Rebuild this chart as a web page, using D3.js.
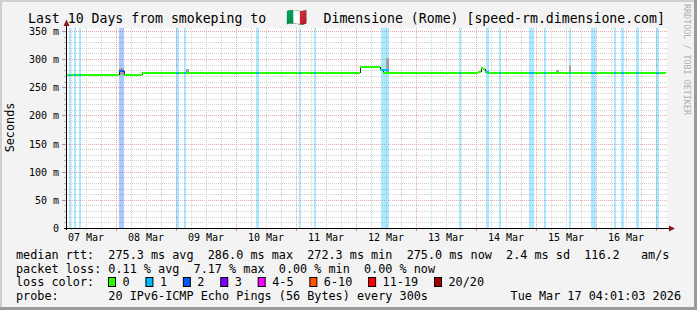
<!DOCTYPE html>
<html><head><meta charset="utf-8">
<script src="https://cdn.jsdelivr.net/npm/d3@7"></script>
<style>
html,body{margin:0;padding:0;background:#f3f3f3;}
svg{display:block;}
text{font-family:"DejaVu Sans Mono",monospace;white-space:pre;}
</style></head><body>
<svg id="chart" width="697" height="310"></svg>
<script>
// ---------- data ----------
const startTime = "2026-03-07T04:01:03Z";
const endTime   = "2026-03-17T04:01:03Z";
const titleParts = ["Last 10 Days from smokeping to ", "🇮🇹", " Dimensione (Rome) [speed-rm.dimensione.com]"];
const yTickValues = [0, 50, 100, 150, 200, 250, 300, 350];
const yTickLabels = ["0", "50 m", "100 m", "150 m", "200 m", "250 m", "300 m", "350 m"];
const dayLabels = ["07 Mar","08 Mar","09 Mar","10 Mar","11 Mar","12 Mar","13 Mar","14 Mar","15 Mar","16 Mar"];

// median RTT (ms) as steps: value holds from start until next start
const medianStart = ["2026-03-07T04:01Z","2026-03-08T01:12Z","2026-03-08T03:12Z","2026-03-08T10:24Z",
  "2026-03-12T01:36Z","2026-03-12T09:36Z","2026-03-12T10:48Z","2026-03-14T00:48Z",
  "2026-03-14T02:00Z","2026-03-14T02:48Z","2026-03-14T03:36Z","2026-03-14T04:24Z"];
const medianValue = [272.3, 279, 272.3, 275.6, 286.0, 280, 275.4, 278, 285, 282, 278, 275.0];

// loss events (start, duration in hours, lost pings of 20)
const lossStart = ["2026-03-07T05:12Z","2026-03-07T07:05Z","2026-03-07T09:05Z","2026-03-08T01:12Z",
  "2026-03-08T23:54Z","2026-03-09T03:06Z","2026-03-10T07:54Z","2026-03-11T01:06Z","2026-03-11T07:12Z",
  "2026-03-12T10:00Z","2026-03-13T17:12Z","2026-03-14T04:00Z","2026-03-14T09:12Z","2026-03-14T21:12Z",
  "2026-03-15T03:06Z","2026-03-15T13:12Z","2026-03-15T22:00Z","2026-03-16T07:06Z","2026-03-16T10:00Z",
  "2026-03-16T16:00Z","2026-03-16T23:54Z"];
const lossHours = [0.8,0.8,0.8,2,1.3,0.8,1.3,0.8,0.8,3.2,0.8,1.2,0.8,2,0.8,0.8,2,0.8,1.2,1.2,1.3];
const lossCount = [1,1,1,2,1,1,1,1,1,1,1,1,1,1,1,1,1,1,1,1,1];

// smoke (spread of individual pings), ms
const smokeStart = ["2026-03-08T01:12Z","2026-03-09T04:00Z","2026-03-12T12:00Z","2026-03-15T08:00Z","2026-03-15T13:12Z"];
const smokeHours = [2, 1.2, 1.2, 1.2, 0.8];
const smokeLow   = [272, 276, 277, 277, 277];
const smokeHigh  = [284, 283, 302, 281, 288];

const legendLabels = ["0","1","2","3","4-5","6-10","11-19","20/20"];
const legendColors = ["#26ff00","#00b8ff","#0059ff","#7e00ff","#ff00ff","#ff5500","#ff0000","#a10000"];
const rttStats  = ["275.3 ms avg","286.0 ms max","272.3 ms min","275.0 ms now","2.4 ms sd","116.2   am/s"];
const lossStats = ["0.11 % avg","7.17 % max","0.00 % min","0.00 % now"];
const probeText = "20 IPv6-ICMP Echo Pings (56 Bytes) every 300s";
const stampText = "Tue Mar 17 04:01:03 2026";

// ---------- chart ----------
const svg = d3.select("#chart");
const L = 66, R = 666, T = 28, B = 228;
const t0 = new Date(startTime), t1 = new Date(endTime);
const x = d3.scaleUtc().domain([t0, t1]).range([L, R]);
const y = d3.scaleLinear().domain([0, 355.3]).range([B, T]);
const HOUR = 3600e3;
const colorOf = n => legendColors[n <= 3 ? n : n <= 5 ? 4 : n <= 10 ? 5 : n <= 19 ? 6 : 7];

// frame
svg.append("rect").attr("width",697).attr("height",310).attr("fill","#f3f3f3");
svg.append("rect").attr("x",0).attr("y",0).attr("width",697).attr("height",2).attr("fill","#cfcfcf");
svg.append("rect").attr("x",0).attr("y",0).attr("width",2).attr("height",310).attr("fill","#cfcfcf");
svg.append("rect").attr("x",694).attr("y",0).attr("width",3).attr("height",310).attr("fill","#9b9b9b");
svg.append("rect").attr("x",0).attr("y",307).attr("width",697).attr("height",3).attr("fill","#9b9b9b");

// canvas
svg.append("rect").attr("x",L).attr("y",T).attr("width",R-L+1).attr("height",B-T).attr("fill","#fff");

const g = svg.append("g");
// horizontal grid
d3.range(10, 351, 10).forEach(v => {
  const yy = Math.round(y(v)) + 0.5, major = v % 50 === 0;
  g.append("line").attr("x1",L).attr("x2",R+1).attr("y1",yy).attr("y2",yy)
    .attr("stroke", major ? "#e8a8a8" : "#d2d2d2").attr("stroke-dasharray","1,1");
  g.append("line").attr("x1", major ? 62 : 64).attr("x2",L).attr("y1",yy).attr("y2",yy)
    .attr("stroke", major ? "#d08a8a" : "#b8b8b8");
});
// vertical grid
d3.utcHour.every(6).range(t0, t1).forEach(d => {
  const xx = Math.round(x(d)) + 0.5, major = d.getUTCHours() === 0;
  g.append("line").attr("x1",xx).attr("x2",xx).attr("y1",T).attr("y2",B)
    .attr("stroke", major ? "#e8a8a8" : "#d2d2d2").attr("stroke-dasharray","1,1");
  g.append("line").attr("x1",xx).attr("x2",xx).attr("y1",B).attr("y2", major ? B+3 : B+2)
    .attr("stroke", major ? "#d08a8a" : "#b8b8b8");
});

// loss backgrounds
lossStart.forEach((s, i) => {
  const a = new Date(s), b = new Date(+a + lossHours[i]*HOUR);
  const xa = Math.round(x(a)), xb = Math.max(xa + 2, Math.round(x(b)));
  g.append("rect").attr("x",xa).attr("y",T).attr("width",xb-xa).attr("height",B-T)
    .attr("fill", colorOf(lossCount[i])).attr("fill-opacity",0.32);
});

// smoke
smokeStart.forEach((s, i) => {
  const a = new Date(s), b = new Date(+a + smokeHours[i]*HOUR);
  const xa = Math.round(x(a)), xb = Math.max(xa + 1, Math.round(x(b)));
  g.append("rect").attr("x",xa).attr("width",xb-xa)
    .attr("y",Math.round(y(smokeHigh[i]))).attr("height",Math.round(y(smokeLow[i]))-Math.round(y(smokeHigh[i])))
    .attr("fill","#a0a0a0");
});

// median line
const med = medianStart.map((s,i) => ({t:new Date(s), v:medianValue[i]}));
med.forEach((m, i) => {
  const tEnd = i < med.length-1 ? med[i+1].t : t1;
  const yy = Math.round(y(m.v));
  g.append("line").attr("x1",x(m.t)).attr("x2",x(tEnd)).attr("y1",yy).attr("y2",yy)
    .attr("stroke","#26ff00").attr("stroke-width",2);
  if (i < med.length-1) {
    const xx = Math.round(x(tEnd)) + 0.5;
    g.append("line").attr("x1",xx).attr("x2",xx).attr("y1",yy).attr("y2",Math.round(y(med[i+1].v)))
      .attr("stroke","#222").attr("stroke-width",1);
  }
});
const medianAt = t => { let v = med[0].v; med.forEach(m => { if (m.t <= t) v = m.v; }); return v; };
lossStart.forEach((s, i) => {
  const a = new Date(s), b = new Date(+a + lossHours[i]*HOUR);
  const yy = Math.round(y(medianAt(a)));
  g.append("line").attr("x1",Math.round(x(a))).attr("x2",Math.max(Math.round(x(a))+2, Math.round(x(b))))
    .attr("y1",yy).attr("y2",yy).attr("stroke", colorOf(lossCount[i])).attr("stroke-width",2);
});

// axes
svg.append("line").attr("x1",L+0.5).attr("x2",L+0.5).attr("y1",B+2).attr("y2",23).attr("stroke","#000");
svg.append("line").attr("x1",L-2).attr("x2",670).attr("y1",B+0.5).attr("y2",B+0.5).attr("stroke","#000");
svg.append("path").attr("d",`M${L-2.5},26 L${L+0.5},19.5 L${L+3.5},26 Z`).attr("fill","#8b1a1a");
svg.append("path").attr("d",`M669,${B-2.5} L675,${B+0.5} L669,${B+3.5} Z`).attr("fill","#8b1a1a");

// y labels
yTickValues.forEach((v, i) => {
  svg.append("text").attr("x",59).attr("y",Math.round(y(v))+3.5).attr("text-anchor","end")
    .attr("font-size","10px").attr("fill","#000").text(yTickLabels[i]);
});
// x labels at noon
dayLabels.forEach((lab, i) => {
  const d = new Date(Date.UTC(2026, 2, 7 + i, 12));
  svg.append("text").attr("x",x(d)).attr("y",241).attr("text-anchor","middle")
    .attr("font-size","10px").attr("fill","#000").text(lab);
});

// title and side texts
const title = svg.append("text").attr("y",23).attr("font-size","13.2px").attr("fill","#000");
title.append("tspan").attr("x",28).text(titleParts[0]);
title.append("tspan").attr("x",286).attr("font-size","17px").text(titleParts[1]);
title.append("tspan").attr("x",315.6).text(titleParts[2]);
svg.append("text").attr("transform","translate(14,127.5) rotate(-90)").attr("text-anchor","middle")
  .attr("font-size","11.8px").attr("fill","#000").text("Seconds");
svg.append("text").attr("transform","translate(684,4) rotate(90)").attr("text-anchor","start")
  .attr("font-size","8.4px").attr("fill","#b0b0b0").text("RRDTOOL / TOBI OETIKER");

// legend
const lf = "11.8px";
svg.append("text").attr("x",16).attr("y",258.5).attr("font-size",lf).text("median rtt:  " + rttStats.join("  "));
svg.append("text").attr("x",16).attr("y",272.5).attr("font-size",lf).text("packet loss: " + lossStats.join("  "));
svg.append("text").attr("x",16).attr("y",286).attr("font-size",lf).text("loss color:");
let bx = 108;
legendLabels.forEach((lab, i) => {
  svg.append("rect").attr("x",bx+0.5).attr("y",277.5).attr("width",7).attr("height",9)
    .attr("fill",legendColors[i]).attr("stroke","#000");
  svg.append("text").attr("x",bx+14.5).attr("y",286).attr("font-size",lf).text(lab);
  bx += 14.5 + lab.length*7.12 + 15.8;
});
svg.append("text").attr("x",16).attr("y",300).attr("font-size",lf).text("probe:       " + probeText);
svg.append("text").attr("x",681).attr("y",300).attr("text-anchor","end").attr("font-size",lf).text(stampText);
</script>
</body></html>
